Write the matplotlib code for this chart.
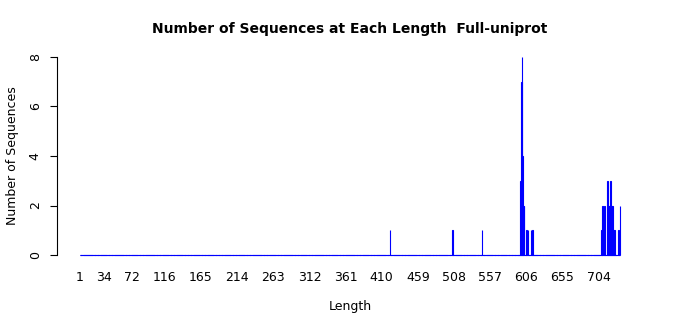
import numpy as np
import matplotlib
matplotlib.use("Agg")
import matplotlib.pyplot as plt

# sequence lengths with non-zero counts
lengths = [421, 506, 546,
           598, 599, 600, 601, 602, 603, 606, 608, 612, 614,
           708, 709, 710, 711, 712, 716, 717, 718, 719, 720, 721, 722, 723,
           724, 725, 731, 733]
counts = [1, 1, 1,
          3, 7, 8, 4, 2, 2, 1, 1, 1, 1,
          1, 2, 2, 1, 2, 3, 2, 2, 2, 3, 2, 2, 2,
          1, 1, 1, 2]
max_len = 733
tick_labels = [1, 34, 72, 116, 165, 214, 263, 312, 361, 410, 459, 508, 557, 606, 655, 704]

# full table 1..max_len, zeros elsewhere
all_len = np.arange(1, max_len + 1)
all_cnt = np.zeros(max_len)
for l, c in zip(lengths, counts):
    all_cnt[l - 1] = c

fig = plt.figure(figsize=(7, 3.15), dpi=100)
ax = fig.add_axes([57 / 700, 52 / 315, 586 / 700, 214 / 315])

ax.bar(all_len, all_cnt, width=0.8, color="blue", edgecolor="blue", linewidth=0.8)
# zero-height bar borders form a solid baseline in the original
ax.hlines(0, all_len[0] - 0.4, all_len[-1] + 0.4, color="blue", linewidth=0.8)

ax.set_xlim(-30, 764)
ax.set_ylim(-0.32, 8.32)

for s in ["top", "right", "bottom"]:
    ax.spines[s].set_visible(False)
ax.spines["left"].set_bounds(0, 8)
ax.spines["left"].set_linewidth(0.8)

ax.set_yticks([0, 2, 4, 6, 8])
ax.set_yticklabels(["0", "2", "4", "6", "8"], rotation=90, va="center", fontsize=9)
ax.tick_params(axis="y", length=5, width=0.8, pad=6)

ax.set_xticks(tick_labels)
ax.set_xticklabels([str(t) for t in tick_labels], fontsize=9)
ax.tick_params(axis="x", length=0, pad=6)

ax.set_xlabel("Length", fontsize=9, labelpad=11)
ax.set_ylabel("Number of Sequences", fontsize=9, labelpad=7)
fig.suptitle("Number of Sequences at Each Length  Full-uniprot",
             x=350 / 700, y=1 - 29 / 315, va="center", fontsize=10, fontweight="bold")

fig.savefig("out.png", dpi=100)
